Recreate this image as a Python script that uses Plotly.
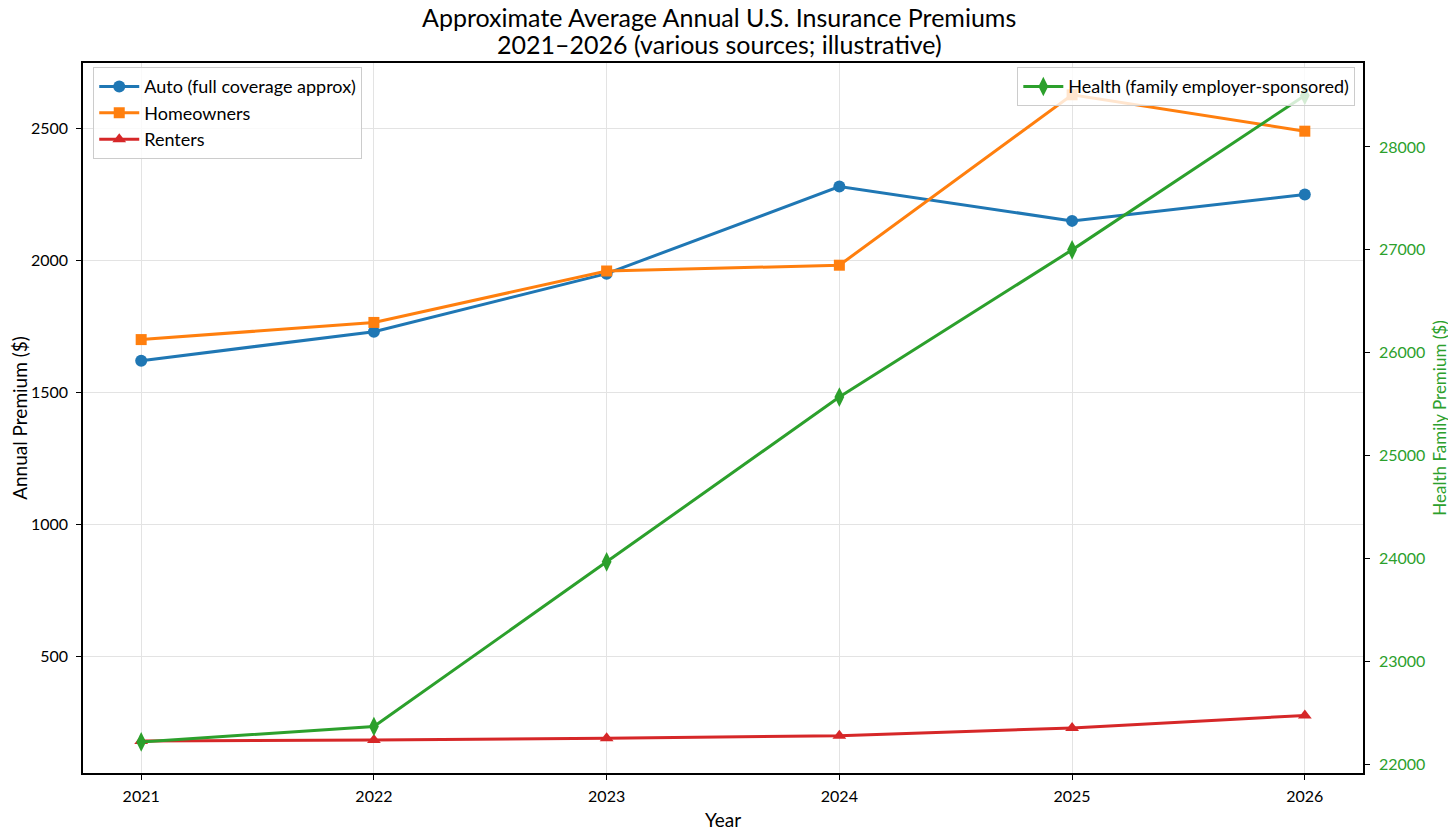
import plotly.graph_objects as go

years = [2021, 2022, 2023, 2024, 2025, 2026]
auto = [1620, 1730, 1950, 2280, 2150, 2250]
homeowners = [1700, 1765, 1960, 1982, 2628, 2490]
renters = [178, 182, 189, 198, 228, 275]
health = [22221, 22370, 23970, 25570, 27000, 28500]

FONT = "Lato"
fig = go.Figure()

left_series = [
    ("Auto (full coverage approx)", auto, "#1f77b4", "circle", 12),
    ("Homeowners", homeowners, "#ff7f0e", "square", 11),
    ("Renters", renters, "#d62728", "triangle-up", 12),
]
for name, vals, col, sym, sz in left_series:
    fig.add_trace(go.Scatter(
        x=years, y=vals, name=name, mode="lines+markers",
        line=dict(color=col, width=3),
        marker=dict(symbol=sym, size=sz, color=col),
        legend="legend",
    ))

fig.add_trace(go.Scatter(
    x=years, y=health, name="Health (family employer-sponsored)",
    mode="lines+markers", yaxis="y2",
    line=dict(color="#2ca02c", width=3),
    marker=dict(symbol="diamond-tall", size=14, color="#2ca02c"),
    legend="legend2",
))

axis_common = dict(
    showline=True, linecolor="black", linewidth=1.5,
    ticks="outside", ticklen=5, tickcolor="black", tickwidth=1.2,
    zeroline=False, automargin=False,
)

# title as two annotations so the line spacing can match
title_lines = ["Approximate Average Annual U.S. Insurance Premiums",
               "2021–2026 (various sources; illustrative)"]
annotations = [
    dict(text=t, xref="paper", yref="paper", x=0.497, y=yy,
         xanchor="center", yanchor="middle", showarrow=False,
         font=dict(family=FONT, size=25, color="black"))
    for t, yy in zip(title_lines, [1.0648, 1.0268])
]

# the page body has an 8px margin, so the figure is sized to fit inside it
fig.update_layout(
    width=1448, height=828,
    paper_bgcolor="white", plot_bgcolor="white",
    font=dict(family=FONT, size=16, color="black"),
    margin=dict(l=75, r=93, t=55, b=63),
    annotations=annotations,
    xaxis=dict(
        range=[2020.75, 2026.25], tickvals=years, title=dict(text="Year", standoff=10),
        showgrid=True, gridcolor="#e3e3e3", gridwidth=1, mirror=True,
        tickfont=dict(size=16), ticklabelstandoff=3, **axis_common,
    ),
    yaxis=dict(
        range=[57, 2748.5], tickvals=[500, 1000, 1500, 2000, 2500],
        title=dict(text="Annual Premium ($)", standoff=12),
        showgrid=True, gridcolor="#e3e3e3", gridwidth=1,
        tickfont=dict(size=16), ticklabelstandoff=5, **axis_common,
    ),
    yaxis2=dict(
        overlaying="y", side="right", range=[21919, 28815],
        tickvals=[22000, 23000, 24000, 25000, 26000, 27000, 28000],
        ticktext=["22000", "23000", "24000", "25000", "26000", "27000", "28000"],
        title=dict(text="Health Family Premium ($)", standoff=10,
                   font=dict(color="#2ca02c", size=17)),
        showgrid=False, tickfont=dict(size=16, color="#2ca02c"),
        ticklabelstandoff=6, **axis_common,
    ),
    legend=dict(
        x=0.008, y=0.994, xanchor="left", yanchor="top",
        bgcolor="rgba(255,255,255,0.8)", bordercolor="#cccccc", borderwidth=1,
        font=dict(size=18), itemwidth=40, tracegroupgap=0,
    ),
    legend2=dict(
        x=0.994, y=0.994, xanchor="right", yanchor="top",
        bgcolor="rgba(255,255,255,0.8)", bordercolor="#cccccc", borderwidth=1,
        font=dict(size=18), itemwidth=40,
    ),
)

fig.write_html("out.html")
